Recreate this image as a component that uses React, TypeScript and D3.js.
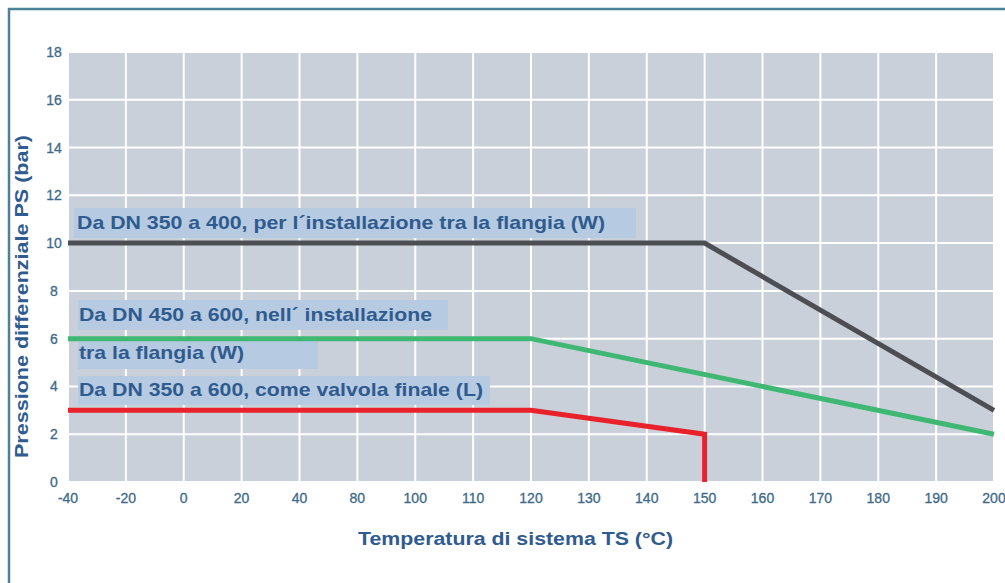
import React from "react";
import * as d3 from "d3";

const xCategories = ["-40", "-20", "0", "20", "40", "80", "100", "110", "120", "130", "140", "150", "160", "170", "180", "190", "200"];
const yTicks = [0, 2, 4, 6, 8, 10, 12, 14, 16, 18];

const seriesW350 = [
  { x: "-40", y: 10 },
  { x: "150", y: 10 },
  { x: "200", y: 3 },
];
const seriesW450 = [
  { x: "-40", y: 6 },
  { x: "120", y: 6 },
  { x: "200", y: 2 },
];
const seriesL = [
  { x: "-40", y: 3 },
  { x: "120", y: 3 },
  { x: "150", y: 2 },
  { x: "150", y: 0 },
];

const labels = [
  { text: "Da DN 350 a 400, per l\u00b4installazione tra la flangia (W)", box: [74, 208, 562, 30], tx: 77, ty: 229, tw: 528 },
  { text: "Da DN 450 a 600, nell\u00b4 installazione", box: [78, 300, 370, 30], tx: 79, ty: 321, tw: 353 },
  { text: "tra la flangia (W)", box: [78, 339, 240, 30], tx: 79, ty: 359, tw: 165 },
  { text: "Da DN 350 a 600, come valvola finale (L)", box: [78, 376, 412, 29], tx: 79, ty: 396, tw: 404 },
];

const W = 1005;
const H = 583;
const left = 68;
const right = 994;
const top = 52;
const bottom = 482;

export default function App() {
  const x = d3.scalePoint<string>().domain(xCategories).range([left, right]);
  const y = d3.scaleLinear().domain([0, 18]).range([bottom, top]);
  const line = d3
    .line<{ x: string; y: number }>()
    .x((d) => x(d.x) as number)
    .y((d) => y(d.y));

  const font = "'Liberation Sans', Arial, sans-serif";
  const titleColor = "#2f5b8e";
  const tickColor = "#3e6a88";

  return (
    <svg width={W} height={H} style={{ position: "absolute", left: 0, top: 0, background: "#fff" }}>
      {/* frame */}
      <path d={`M9,${H} L9,9 L${W},9`} fill="none" stroke="#4b8298" strokeWidth={2.5} />
      {/* plot background */}
      <rect x={left} y={top} width={right - left} height={bottom - top} fill="#c9d0da" />
      {/* grid */}
      {xCategories.map((c) => (
        <line key={"gx" + c} x1={x(c)} x2={x(c)} y1={top} y2={bottom} stroke="#fff" strokeWidth={2} />
      ))}
      {yTicks.map((t) => (
        <line key={"gy" + t} x1={left} x2={right} y1={y(t)} y2={y(t)} stroke="#fff" strokeWidth={2} />
      ))}
      {/* y tick labels */}
      {yTicks.map((t) => (
        <text key={"ty" + t} x={54} y={y(t) + 5} textAnchor="middle" fontFamily={font} fontSize={14} fill={tickColor} stroke={tickColor} strokeWidth={0.3}>
          {t}
        </text>
      ))}
      {/* x tick labels */}
      {xCategories.map((c) => (
        <text key={"tx" + c} x={x(c)} y={503} textAnchor="middle" fontFamily={font} fontSize={14} fill={tickColor} stroke={tickColor} strokeWidth={0.3}>
          {c}
        </text>
      ))}
      {/* label boxes */}
      {labels.map((l, i) => (
        <g key={"lb" + i}>
          <rect x={l.box[0]} y={l.box[1]} width={l.box[2]} height={l.box[3]} fill="#b6cae2" />
        </g>
      ))}
      {/* lines */}
      <path d={line(seriesL) || ""} fill="none" stroke="#e8212b" strokeWidth={5} strokeLinejoin="miter" />
      <path d={line(seriesW450) || ""} fill="none" stroke="#3eb872" strokeWidth={5} strokeLinejoin="miter" />
      <path d={line(seriesW350) || ""} fill="none" stroke="#4c4e53" strokeWidth={5} strokeLinejoin="miter" />
      {/* label texts */}
      {labels.map((l, i) => (
        <text
          key={"lt" + i}
          x={l.tx}
          y={l.ty}
          fontFamily={font}
          fontWeight="bold"
          fontSize={19}
          fill={titleColor}
          textLength={l.tw}
          lengthAdjust="spacingAndGlyphs"
        >
          {l.text}
        </text>
      ))}
      {/* axis titles */}
      <text
        transform={`translate(28,${(135 + 458) / 2}) rotate(-90)`}
        textAnchor="middle"
        fontFamily={font}
        fontWeight="bold"
        fontSize={18}
        fill={titleColor}
        textLength={323}
        lengthAdjust="spacingAndGlyphs"
      >
        Pressione differenziale PS (bar)
      </text>
      <text
        x={(358 + 673) / 2}
        y={545}
        textAnchor="middle"
        fontFamily={font}
        fontWeight="bold"
        fontSize={18}
        fill={titleColor}
        textLength={315}
        lengthAdjust="spacingAndGlyphs"
      >
        Temperatura di sistema TS (°C)
      </text>
    </svg>
  );
}
